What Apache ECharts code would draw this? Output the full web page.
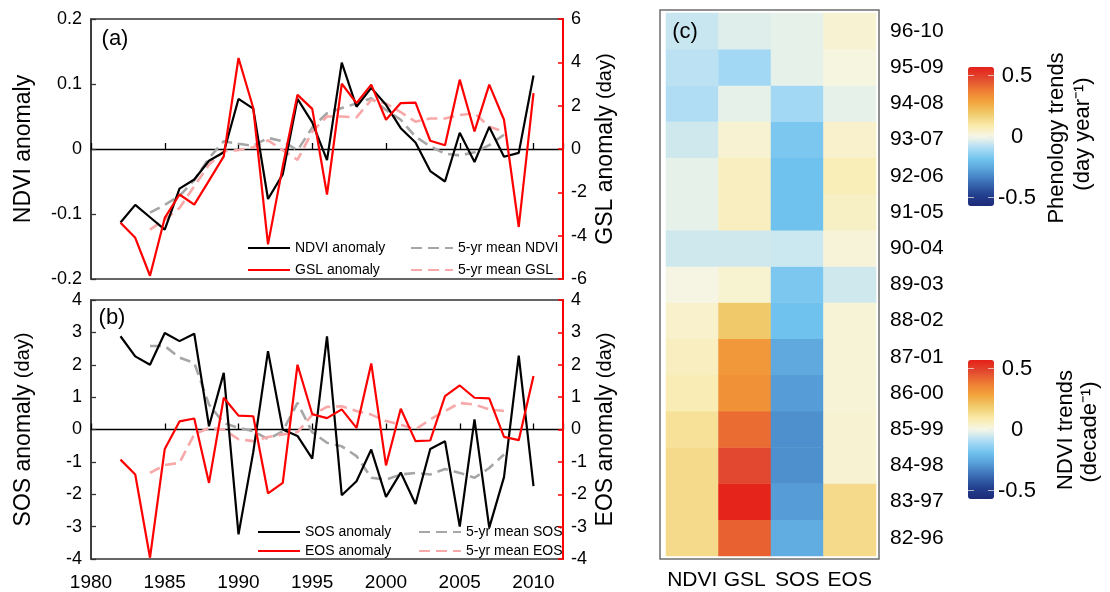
<!DOCTYPE html>
<html><head><meta charset="utf-8">
<script src="https://cdn.jsdelivr.net/npm/echarts@6/dist/echarts.min.js"></script>
<style>html,body{margin:0;padding:0;background:#fff}#c{width:1110px;height:592px}</style>
</head><body><div id="c"></div>
<script>
const years = [1982,1983,1984,1985,1986,1987,1988,1989,1990,1991,1992,1993,1994,1995,1996,1997,1998,1999,2000,2001,2002,2003,2004,2005,2006,2007,2008,2009,2010];
const maYears = [1984,1985,1986,1987,1988,1989,1990,1991,1992,1993,1994,1995,1996,1997,1998,1999,2000,2001,2002,2003,2004,2005,2006,2007,2008];
const ndviAnom = [-0.113,-0.086,-0.105,-0.124,-0.061,-0.047,-0.018,-0.005,0.077,0.062,-0.077,-0.039,0.077,0.041,-0.017,0.133,0.065,0.094,0.068,0.032,0.010,-0.034,-0.050,0.025,-0.020,0.034,-0.012,-0.006,0.113];
const gslAnom = [-3.4,-4.1,-5.85,-3.18,-2.1,-2.57,-1.46,-0.34,4.2,1.89,-4.4,-0.8,2.5,1.85,-2.1,3.01,2.12,2.97,1.35,2.12,2.14,0.38,0.17,3.2,0.81,2.97,1.35,-3.6,2.58];
const ndviMean5 = [-0.098,-0.086,-0.072,-0.048,-0.014,0.012,0.008,0.005,0.017,0.012,-0.002,0.033,0.055,0.063,0.070,0.078,0.060,0.045,0.019,0.004,-0.007,-0.010,-0.005,0.006,0.022];
const gslMean5 = [-3.72,-3.26,-2.72,-1.72,-0.72,-0.1,-0.05,0.08,0.4,-0.05,-0.5,0.8,1.5,1.5,1.46,2.27,2.1,1.7,1.26,1.41,1.41,1.57,1.65,1.03,0.8];
const sosAnom = [2.88,2.26,2.0,2.98,2.73,2.96,0.1,1.75,-3.24,-0.7,2.42,0.0,-0.2,-0.9,2.88,-2.03,-1.6,-0.62,-2.08,-1.33,-2.3,-0.6,-0.36,-3.0,0.31,-3.03,-1.47,2.28,-1.75];
const eosAnom = [-0.93,-1.39,-3.96,-0.6,0.25,0.34,-1.65,0.98,0.43,0.41,-1.97,-1.65,2.0,0.47,0.35,0.62,0.05,2.04,-1.11,0.64,-0.36,-0.34,1.03,1.36,0.98,0.96,-0.23,-0.33,1.65];
const sosMean5 = [2.58,2.58,2.22,2.06,0.77,0.2,0.05,-0.05,-0.3,-0.05,0.82,-0.08,-0.41,-0.52,-0.82,-1.49,-1.55,-1.39,-1.34,-1.39,-1.22,-1.34,-1.49,-1.19,-0.77];
const eosMean5 = [-1.34,-1.1,-1.03,-0.15,0.05,0.0,-0.3,-0.36,-0.23,-0.15,-0.08,0.45,0.7,0.72,0.57,0.46,0.26,0.15,0.0,0.31,0.57,0.82,0.77,0.62,0.57];

const periods = ['82-96','83-97','84-98','85-99','86-00','87-01','88-02','89-03','90-04','91-05','92-06','93-07','94-08','95-09','96-10'];
const trendCols = ['NDVI','GSL','SOS','EOS'];
const ndviTrend = [0.14,0.14,0.14,0.12,0.075,0.06,0.04,0.005,-0.05,-0.02,-0.02,-0.05,-0.09,-0.075,-0.06];
const gslTrend  = [0.43,0.56,0.48,0.41,0.33,0.31,0.19,0.035,-0.05,0.06,0.06,0.03,-0.02,-0.11,-0.03];
const sosTrend  = [-0.24,-0.28,-0.31,-0.31,-0.28,-0.25,-0.19,-0.17,-0.055,-0.19,-0.19,-0.17,-0.11,-0.02,-0.02];
const eosTrend  = [0.14,0.14,0.03,0.03,0.025,0.025,0.025,-0.05,0.02,0.05,0.07,0.04,-0.02,0.01,0.03];
const cbTicks = ['0.5','0','-0.5'];

const FONT = 'Liberation Sans, Arial, Helvetica, sans-serif';
const palette = ['#1d2a78','#24418f','#3a6db4','#559bd6','#6fc2ee','#acdcf5','#f6f6e6','#faeaa8','#f0c96a','#f2a43c','#ee7b33','#e24a30','#e52019'];
const pair = (xs, vs) => xs.map((x, i) => [x, vs[i]]);

const chart = echarts.init(document.getElementById('c'));

function lineSeries(name, xs, vs, xi, yi, color, dashed, z) {
  return {
    name, type: 'line', xAxisIndex: xi, yAxisIndex: yi, data: pair(xs, vs),
    symbol: 'none', showSymbol: false, z,
    lineStyle: { color, width: dashed ? 2.6 : 2.2, type: dashed ? [11, 6] : 'solid' },
    itemStyle: { color },
    emphasis: { disabled: true }
  };
}
function xZero(gi) {
  return {
    gridIndex: gi, type: 'value', min: 1980, max: 2012, interval: 5,
    axisLine: { onZero: true, lineStyle: { color: '#000', width: 1.3 } },
    axisTick: { inside: true, length: 6, lineStyle: { color: '#000', width: 1.3 } },
    axisLabel: { show: false }, splitLine: { show: false }
  };
}
const nameRich = { a: { fontSize: 23, fontFamily: FONT, color: '#000' }, b: { fontSize: 20, fontFamily: FONT, color: '#000' } };
function yLeft(gi, min, max, interval, name) {
  return {
    gridIndex: gi, type: 'value', position: 'left', min, max, interval,
    axisLine: { show: true, onZero: false, lineStyle: { color: '#333', width: 1.5 } },
    axisTick: { inside: true, length: 5, lineStyle: { color: '#333', width: 1.3 } },
    axisLabel: { fontSize: 18, color: '#000', fontFamily: FONT, margin: 9 },
    splitLine: { show: false },
    name, nameLocation: 'middle', nameRotate: 90, nameGap: 56,
    nameTextStyle: { fontSize: 23, color: '#000', fontFamily: FONT, rich: nameRich }
  };
}
function yRight(gi, min, max, interval, name) {
  return {
    gridIndex: gi, type: 'value', position: 'right', min, max, interval, z: 5,
    axisLine: { show: true, onZero: false, lineStyle: { color: '#ff0000', width: 2 } },
    axisTick: { inside: true, length: 5, lineStyle: { color: '#ff0000', width: 1.5 } },
    axisLabel: { fontSize: 18, color: '#000', fontFamily: FONT, margin: 8 },
    splitLine: { show: false },
    name, nameLocation: 'middle', nameRotate: 90, nameGap: 31,
    nameTextStyle: { fontSize: 23, color: '#000', fontFamily: FONT, rich: nameRich }
  };
}
function legend(left, top, gap, data) {
  return {
    left, top, orient: 'vertical', itemWidth: 42, itemHeight: 14, itemGap: gap,
    selectedMode: false, data,
    itemStyle: { opacity: 0, borderWidth: 0 },
    textStyle: { fontSize: 14, color: '#000', fontFamily: FONT }
  };
}
function cbGraphics(ticksY) {
  const g = [];
  ticksY.forEach((y, i) => {
    g.push({ type: 'text', x: 1017, y, style: { text: cbTicks[i], fontSize: 22, fontFamily: FONT, fill: '#000', align: 'center', verticalAlign: 'middle' } });
    g.push({ type: 'line', shape: { x1: 968, y1: y, x2: 974, y2: y }, style: { stroke: 'rgba(235,235,235,0.7)', lineWidth: 1 }, z: 100 });
    g.push({ type: 'line', shape: { x1: 988, y1: y, x2: 994, y2: y }, style: { stroke: 'rgba(235,235,235,0.7)', lineWidth: 1 }, z: 100 });
  });
  return g;
}
function rotText(text, x, y) {
  return { type: 'text', x, y, rotation: Math.PI / 2,
    style: { text, fontSize: 22, fontFamily: FONT, fill: '#000', align: 'center', verticalAlign: 'middle' } };
}

const option = {
  animation: false,
  backgroundColor: '#fff',
  textStyle: { fontFamily: FONT },
  grid: [
    { left: 91, top: 19, width: 472, height: 260, show: true, borderColor: '#333', borderWidth: 1.5, backgroundColor: 'transparent' },
    { left: 91, top: 300, width: 472, height: 259, show: true, borderColor: '#333', borderWidth: 1.5, backgroundColor: 'transparent' },
    { left: 666, top: 13, width: 210, height: 543 }
  ],
  xAxis: [
    xZero(0),
    xZero(1),
    { gridIndex: 1, type: 'value', position: 'bottom', min: 1980, max: 2012, interval: 5,
      axisLine: { show: false, onZero: false }, axisTick: { show: false }, splitLine: { show: false },
      axisLabel: { fontSize: 19, color: '#000', fontFamily: FONT, margin: 14, showMaxLabel: false, formatter: v => String(v) } },
    { gridIndex: 2, type: 'category', data: trendCols, position: 'bottom',
      axisLine: { show: false }, axisTick: { show: false }, splitLine: { show: false },
      axisLabel: { fontSize: 21, color: '#000', fontFamily: FONT, margin: 14, interval: 0 } }
  ],
  yAxis: [
    yLeft(0, -0.2, 0.2, 0.1, '{a|NDVI anomaly}'),
    yRight(0, -6, 6, 2, '{a|GSL anomaly} {b|(day)}'),
    yLeft(1, -4, 4, 1, '{a|SOS anomaly} {b|(day)}'),
    yRight(1, -4, 4, 1, '{a|EOS anomaly} {b|(day)}'),
    { gridIndex: 2, type: 'category', data: periods, position: 'right',
      axisLine: { show: false }, axisTick: { show: false }, splitLine: { show: false },
      axisLabel: { fontSize: 21, color: '#000', fontFamily: FONT, margin: 14, interval: 0 } }
  ],
  legend: [
    legend(242, 236, 8, ['NDVI anomaly', 'GSL anomaly']),
    legend(405, 236, 8, ['5-yr mean NDVI', '5-yr mean GSL']),
    legend(252, 520, 5, ['SOS anomaly', 'EOS anomaly']),
    legend(413, 520, 5, ['5-yr mean SOS', '5-yr mean EOS'])
  ],
  visualMap: [
    { type: 'continuous', seriesIndex: 9, min: -0.57, max: 0.57, calculable: false, realtime: false,
      left: 953, top: 52, itemWidth: 26, itemHeight: 139, text: null, hoverLink: false,
      inRange: { color: palette } },
    { type: 'continuous', seriesIndex: 8, min: -0.57, max: 0.57, calculable: false, realtime: false,
      left: 953, top: 345, itemWidth: 26, itemHeight: 139, text: null, hoverLink: false,
      inRange: { color: palette } }
  ],
  series: [
    lineSeries('5-yr mean NDVI', maYears, ndviMean5, 0, 0, '#a6a6a6', true, 2),
    lineSeries('5-yr mean GSL', maYears, gslMean5, 0, 1, '#f7a8a8', true, 2),
    lineSeries('NDVI anomaly', years, ndviAnom, 0, 0, '#000000', false, 3),
    lineSeries('GSL anomaly', years, gslAnom, 0, 1, '#ff0000', false, 4),
    lineSeries('5-yr mean SOS', maYears, sosMean5, 1, 2, '#a6a6a6', true, 2),
    lineSeries('5-yr mean EOS', maYears, eosMean5, 1, 3, '#f7a8a8', true, 2),
    lineSeries('SOS anomaly', years, sosAnom, 1, 2, '#000000', false, 3),
    lineSeries('EOS anomaly', years, eosAnom, 1, 3, '#ff0000', false, 4),
    { name: 'NDVI trends', type: 'heatmap', xAxisIndex: 3, yAxisIndex: 4,
      data: periods.map((p, i) => [0, i, ndviTrend[i]]), emphasis: { disabled: true } },
    { name: 'Phenology trends', type: 'heatmap', xAxisIndex: 3, yAxisIndex: 4,
      data: periods.flatMap((p, i) => [[1, i, gslTrend[i]], [2, i, sosTrend[i]], [3, i, eosTrend[i]]]), emphasis: { disabled: true } }
  ],
  graphic: [
    { type: 'rect', shape: { x: 660, y: 10, width: 219, height: 549 }, style: { fill: 'none', stroke: '#6d6d6d', lineWidth: 1.5 }, z: 50 },
    { type: 'text', x: 115, y: 39, style: { text: '(a)', fontSize: 22, fontFamily: FONT, fill: '#000', align: 'center', verticalAlign: 'middle' } },
    { type: 'text', x: 112, y: 318, style: { text: '(b)', fontSize: 22, fontFamily: FONT, fill: '#000', align: 'center', verticalAlign: 'middle' } },
    { type: 'text', x: 685, y: 32, style: { text: '(c)', fontSize: 22, fontFamily: FONT, fill: '#000', align: 'center', verticalAlign: 'middle' }, z: 60 },
    ...cbGraphics([75.5, 136.5, 197.5]),
    ...cbGraphics([368.5, 429.5, 490.5]),
    rotText('Phenology trends', 1057, 138),
    rotText('(day year\u207B\u00B9)', 1083, 134),
    rotText('NDVI trends', 1066, 430),
    rotText('(decade\u207B\u00B9)', 1090, 432)
  ]
};
chart.setOption(option);
</script>
</body></html>
